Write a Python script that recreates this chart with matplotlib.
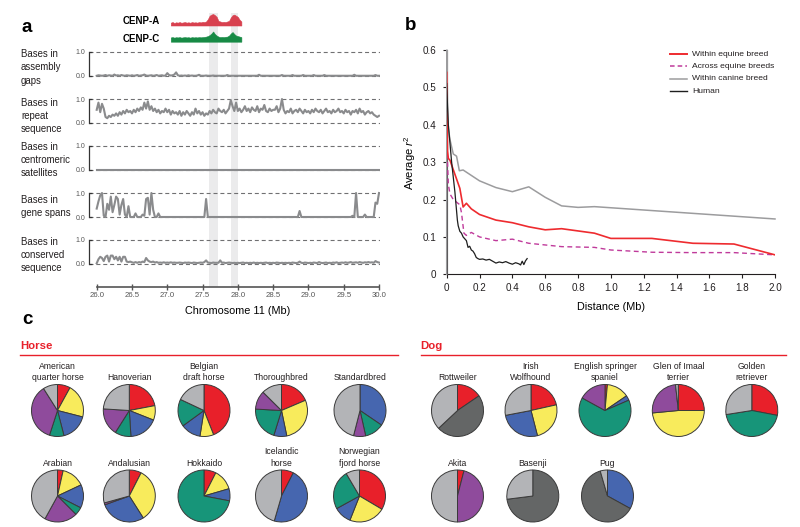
import numpy as np
import matplotlib
matplotlib.use('Agg')
import matplotlib.pyplot as plt
from matplotlib.lines import Line2D

plt.rcParams['font.family'] = ['Liberation Sans', 'DejaVu Sans']
plt.rcParams['mathtext.fontset'] = 'custom'
plt.rcParams['mathtext.rm'] = 'Liberation Sans'
plt.rcParams['mathtext.it'] = 'Liberation Sans:italic'

# ---------------- data: panel a ----------------
track_names = ["Bases in\nassembly\ngaps", "Bases in\nrepeat\nsequence",
               "Bases in\ncentromeric\nsatellites", "Bases in\ngene spans",
               "Bases in\nconserved\nsequence"]
chrom_ticks = [26.0, 26.5, 27.0, 27.5, 28.0, 28.5, 29.0, 29.5, 30.0]
cen_bands = [(27.59, 27.72), (27.90, 28.00)]
cenp_range = (27.05, 28.05)

gaps = [.01,.03,.02,.01,.02,.04,.01,.03,.02,.01,.06,.02,.03,.01,.04,.02,.01,.03,.02,.01,
        .03,.01,.02,.04,.01,.02,.03,.06,.02,.01,.02,.03,.01,.02,.04,.01,.02,.03,.01,.02,
        .12,.04,.02,.03,.06,.15,.03,.01,.02,.01,.02,.01,.03,.01,.02,.01,.01,.02,.05,.01,
        .01,.01,.02,.01,.01,.01,.02,.01,.01,.01,.01,.01,.01,.01,.04,.01,.01,.01,.01,.01,
        .01,.01,.01,.01,.01,.01,.01,.01,.01,.01,.01,.01,.05,.01,.01,.01,.01,.01,.01,.01,
        .01,.01,.01,.01,.01,.04,.01,.01,.01,.01,.01,.04,.01,.01,.01,.01,.01,.04,.01,.01,
        .01,.01,.01,.04,.01,.01,.01,.01,.01,.04,.01,.01,.01,.01,.01,.01,.01,.01,.01,.01,
        .01,.01,.01,.01,.01,.01,.05,.01,.01,.01,.01,.01,.01,.01,.01,.01,.01,.01,.04,.01,
        .01]
repeat = [.55,.85,.45,.8,.6,.25,.2,.3,.25,.35,.3,.4,.3,.45,.35,.5,.4,.55,.45,.5,
          .4,.55,.45,.6,.5,.65,.55,.85,.6,.9,.55,.7,.5,.6,.45,.55,.4,.5,.45,.6,
          .45,.55,.35,.5,.4,.45,.35,.5,.3,.45,.35,.5,.4,.3,.45,.35,.6,.4,.5,.35,
          .45,.3,.4,.35,.5,.4,.55,.45,.4,.6,.5,.45,.55,.4,.5,.6,.95,.7,.5,.85,
          .5,.6,.45,.55,.7,.5,.6,.45,.65,.55,.5,.7,.45,.6,.55,.75,.5,.45,.6,.5,
          .55,.55,.7,.45,.6,1.0,.55,.4,.5,.45,.6,.4,.5,.55,.45,.6,.5,.4,.55,.45,
          .5,.4,.55,.45,.6,.5,.45,.55,.4,.5,.6,.45,.5,.4,.55,.45,.5,.6,.45,.5,
          .4,.55,.45,.5,.35,.5,.45,.55,.4,.6,.45,.5,.35,.45,.5,.4,.45,.35,.3,.25,
          .3]
centromeric = [0, 0, 0, 0, 0, 0, 0, 0, 0, 0, 0, 0, 0, 0, 0, 0, 0, 0, 0, 0, 0]
genes = [.35,.65,.9,1.0,.05,0,.55,.3,.85,.2,.5,.85,.75,.1,.5,.75,.1,0,.45,0,
         0,0,.15,0,0,0,.1,.05,.75,.8,.1,1.0,.3,0,0,.15,0,0,0,0,
         0,0,0,0,0,0,0,0,0,0,0,0,0,0,0,0,0,0,0,0,
         0,0,.75,0,0,0,0,0,0,0,0,0,0,0,0,0,0,0,0,0,
         0,0,0,0,0,0,0,0,0,0,0,0,0,0,0,0,0,0,0,0,
         0,0,0,0,0,0,0,0,0,0,0,0,0,0,0,.25,0,0,0,0,
         0,0,0,0,0,0,0,0,0,0,0,0,0,0,0,0,0,0,0,0,
         0,0,0,0,0,.05,0,1.0,0,0,0,0,.1,0,0,0,0,0,.6,.55,
         1.0]
conserved = [.03,.2,.3,.25,.12,.3,.35,.1,.35,.35,.2,.3,.15,.3,.1,.3,.3,.1,.08,.1,
             .07,.05,.08,.05,.08,.06,.1,.08,.25,.15,.1,.08,.1,.06,.08,.05,.06,.05,.07,.05,
             .06,.05,.07,.05,.06,.05,.05,.06,.05,.04,.06,.05,.06,.05,.04,.06,.05,.04,.05,.06,
             .05,.08,.15,.06,.05,.04,.06,.05,.05,.05,.15,.05,.06,.04,.05,.06,.05,.04,.05,.04,
             .05,.04,.05,.06,.04,.05,.04,.05,.04,.06,.04,.05,.04,.05,.04,.05,.06,.04,.05,.04,
             .05,.04,.06,.05,.04,.05,.04,.05,.04,.05,.04,.06,.05,.04,.05,.1,.05,.04,.06,.05,
             .04,.05,.04,.06,.05,.04,.08,.05,.04,.05,.06,.04,.05,.04,.06,.05,.07,.04,.05,.06,
             .05,.07,.05,.06,.08,.05,.06,.07,.05,.08,.06,.05,.07,.06,.08,.06,.07,.05,.12,.08,
             .06]
cenp_a = [.25,.3,.22,.28,.25,.3,.24,.27,.3,.25,.28,.24,.3,.26,.28,.25,.3,.27,.32,.3,
          .35,.55,.85,.95,1.0,.9,.75,.4,.35,.3,.32,.3,.35,.4,.7,.9,.95,.85,.75,.5,.35]
cenp_c = [.42,.45,.4,.44,.42,.45,.4,.43,.45,.42,.44,.4,.45,.42,.44,.42,.45,.43,.45,.47,
          .5,.55,.65,.8,1.0,.75,.6,.5,.45,.47,.45,.48,.5,.6,.8,.95,.75,.6,.55,.5,.45]

# ---------------- data: panel b ----------------
equine_x = [0, 0.005, 0.01, 0.02, 0.04, 0.06, 0.08, 0.1, 0.12, 0.15, 0.2, 0.3, 0.4, 0.5,
            0.6, 0.7, 0.8, 0.9, 1.0, 1.25, 1.5, 1.75, 2.0]
equine_y = [0.54, 0.33, 0.31, 0.305, 0.28, 0.255, 0.23, 0.18, 0.19, 0.175, 0.16, 0.145,
            0.138, 0.127, 0.119, 0.122, 0.116, 0.11, 0.096, 0.096, 0.083, 0.081, 0.052]
across_x = [0, 0.005, 0.01, 0.02, 0.04, 0.08, 0.09, 0.105, 0.12, 0.15, 0.2, 0.3, 0.4, 0.5,
            0.7, 0.9, 1.0, 1.25, 1.5, 1.75, 2.0]
across_y = [0.39, 0.3, 0.24, 0.215, 0.2, 0.186, 0.165, 0.11, 0.104, 0.112, 0.1, 0.09, 0.094,
            0.083, 0.074, 0.072, 0.065, 0.059, 0.058, 0.058, 0.052]
canine_x = [0, 0.001, 0.005, 0.01, 0.02, 0.04, 0.06, 0.077, 0.1, 0.2, 0.3, 0.4, 0.5, 0.6,
            0.7, 0.8, 0.9, 1.0, 2.0]
canine_y = [0, 0.6, 0.45, 0.39, 0.36, 0.322, 0.316, 0.277, 0.279, 0.25, 0.232, 0.221,
            0.234, 0.206, 0.183, 0.179, 0.181, 0.178, 0.148]
human_x = [0, 0.005, 0.01, 0.02, 0.03, 0.04, 0.05, 0.06, 0.065, 0.07, 0.08, 0.09, 0.1, 0.11,
           0.12, 0.13, 0.14, 0.15, 0.16, 0.17, 0.18, 0.19, 0.2, 0.22, 0.24, 0.26, 0.28, 0.3,
           0.32, 0.34, 0.36, 0.38, 0.4, 0.42, 0.44, 0.45, 0.46, 0.47, 0.48, 0.49]
human_y = [0.51, 0.45, 0.40, 0.35, 0.30, 0.26, 0.22, 0.17, 0.145, 0.13, 0.115, 0.11, 0.1,
           0.095, 0.09, 0.072, 0.075, 0.065, 0.062, 0.055, 0.045, 0.042, 0.04, 0.041, 0.038,
           0.04, 0.035, 0.03, 0.033, 0.031, 0.034, 0.03, 0.027, 0.031, 0.028, 0.025, 0.035,
           0.026, 0.036, 0.042]
ld_labels = ["Within equine breed", "Across equine breeds", "Within canine breed", "Human"]

# ---------------- data: panel c ----------------
# component order: red, yellow, blue, green, purple, dark grey, light grey
horse_breeds = ["American\nquarter horse", "Hanoverian", "Belgian\ndraft horse", "Thoroughbred",
                "Standardbred", "Arabian", "Andalusian", "Hokkaido", "Icelandic\nhorse",
                "Norwegian\nfjord horse"]
horse_fracs = [
    [8, 21, 17, 9, 36, 0, 9],
    [22, 9, 18, 10, 17, 0, 24],
    [44, 8.5, 12.5, 17, 0, 0, 18],
    [18.5, 28, 8, 21, 11.5, 0, 12.5],
    [0, 0, 34.5, 12, 7.5, 0, 46],
    [3.5, 14.5, 14.5, 5, 20.5, 0, 42],
    [7.5, 33.5, 28.5, 0, 1.2, 0, 29.3],
    [7.5, 13, 7.5, 72, 0, 0, 0],
    [7.5, 0, 47, 0, 0, 0, 45.5],
    [33.5, 22.5, 11, 24.5, 0, 0, 8.5],
]
dog_breeds = ["Rottweiler", "Irish\nWolfhound", "English springer\nspaniel",
              "Glen of Imaal\nterrier", "Golden\nretriever", "Akita", "Basenji", "Pug"]
dog_fracs = [
    [15.5, 0, 0, 0, 0, 47.5, 37],
    [21.5, 24.5, 26, 0, 0, 0, 28],
    [1.5, 14, 3, 64.5, 17, 0, 0],
    [25, 48.5, 0, 0, 24.8, 0, 1.7],
    [28, 0, 0, 44.5, 0, 0, 27.5],
    [4, 0, 0, 0, 46, 0, 50],
    [0, 0, 0, 0, 0, 73, 27],
    [0, 0, 33, 0, 0, 62.5, 4.5],
]
comp_colors = ['#E8202A', '#F8EB5C', '#4666AF', '#179579', '#8F4B9C', '#646666', '#B3B4B7']

# ---------------- layout helpers ----------------
W, H = 800, 527
fig = plt.figure(figsize=(8, 5.27), dpi=100)


def px_axes(l, t, w, h):
    return fig.add_axes([l / W, 1 - (t + h) / H, w / W, h / H])


def ftext(x, y, s, **kw):
    return fig.text(x / W, 1 - y / H, s, **kw)


# ---------------- panel a ----------------
pxA0, pxA1 = 96.7, 379.0          # pixel positions of 26.0 and 30.0
ppm = (pxA1 - pxA0) / 4.0
axL, axR = 89.0, 380.0
xl0 = 26 - (pxA0 - axL) / ppm
xl1 = 26 + (axR - pxA0) / ppm

ftext(22, 27, "a", fontsize=13.5, fontweight='bold', va='center', ha='left')

# grey centromere bands
band_ax = px_axes(axL, 13, axR - axL, 274)
band_ax.set_xlim(xl0, xl1)
band_ax.axis('off')
for b0, b1 in cen_bands:
    band_ax.axvspan(b0, b1, color='#ebebec', lw=0)

# CENP tracks
for vals, col, top, bot, name, ylab in [
        (cenp_a, '#D8414F', 14, 25.5, "CENP-A", 21.5),
        (cenp_c, '#178A45', 31.5, 41.7, "CENP-C", 39.3)]:
    cax = px_axes(axL, top, axR - axL, bot - top)
    cax.set_xlim(xl0, xl1)
    cax.set_ylim(0, 1)
    cax.axis('off')
    cx = np.linspace(cenp_range[0], cenp_range[1], len(vals))
    cax.fill_between(cx, 0, vals, color=col, lw=0.4, edgecolor=col)
    ftext(159.5, ylab, name, fontsize=7, fontweight='bold', ha='right', va='center')

track_data = [gaps, repeat, centromeric, genes, conserved]
track_tops = [52, 99, 146, 193, 240]
label_centers = [67.5, 116, 160, 206.5, 255]
for vals, top, name, lc in zip(track_data, track_tops, track_names, label_centers):
    ax = px_axes(axL, top - 3, axR - axL, 30)
    ax.set_facecolor('none')
    ax.set_xlim(xl0, xl1)
    ax.set_ylim(-3 / 24, 1 + 3 / 24)
    for s in ['top', 'right', 'bottom']:
        ax.spines[s].set_visible(False)
    ax.spines['left'].set_bounds(0, 1)
    ax.spines['left'].set_color('#333333')
    ax.spines['left'].set_linewidth(0.9)
    ax.set_xticks([])
    ax.set_yticks([0, 1])
    ax.set_yticklabels(["0.0", "1.0"])
    ax.tick_params(axis='y', direction='in', length=2.5, width=0.9, color='#333333',
                   labelsize=5.0, pad=2.5, labelcolor='#555555')
    ax.axhline(1, color='#707072', lw=0.8, ls=(0, (3.6, 2.6)), zorder=1)
    ax.axhline(0, color='#707072', lw=0.8, ls=(0, (3.6, 2.6)), zorder=1)
    xs = np.linspace(26, 30, len(vals))
    ax.plot(xs, vals, color='#8a8b8d', lw=1.5, zorder=2)
    ftext(21, lc, name, fontsize=6.9, ha='left', va='center', linespacing=1.38,
          color='#231f20')

# chromosome axis
cax = px_axes(axL, 286, axR - axL, 1)
cax.set_facecolor('none')
cax.set_xlim(xl0, xl1)
for s in ['top', 'right', 'left']:
    cax.spines[s].set_visible(False)
cax.spines['bottom'].set_bounds(26, 30)
cax.spines['bottom'].set_color('#555555')
cax.spines['bottom'].set_linewidth(1.2)
cax.set_yticks([])
cax.set_xticks(chrom_ticks)
cax.set_xticklabels([f"{t:.1f}" for t in chrom_ticks])
cax.tick_params(axis='x', direction='inout', length=5, width=1, color='#555555',
                labelsize=5.6, pad=1, labelcolor='#555555')
ftext(238, 311, "Chromosome 11 (Mb)", fontsize=7.8, ha='center', va='center')

# ---------------- panel b ----------------
ftext(405, 25, "b", fontsize=13.5, fontweight='bold', va='center', ha='left')
axb = px_axes(446.7, 50, 328.3, 224.3)
axb.set_xlim(0, 2.0)
axb.set_ylim(0, 0.6)
for s in ['top', 'right']:
    axb.spines[s].set_visible(False)
for s in ['left', 'bottom']:
    axb.spines[s].set_linewidth(0.8)
    axb.spines[s].set_color('#231f20')
axb.plot(canine_x, canine_y, color='#9c9c9e', lw=1.1, zorder=3, clip_on=False)
axb.plot(across_x, across_y, color='#C03A9B', lw=1.0, ls=(0, (3.5, 2.5)), zorder=4)
axb.plot(equine_x, equine_y, color='#EE2B2F', lw=1.2, zorder=5)
axb.plot(human_x, human_y, color='#1e1e1e', lw=0.9, zorder=6)
xt = [0, 0.2, 0.4, 0.6, 0.8, 1.0, 1.2, 1.4, 1.6, 1.8, 2.0]
yt = [0, 0.1, 0.2, 0.3, 0.4, 0.5, 0.6]
axb.set_xticks(xt)
axb.set_xticklabels(["0" if v == 0 else f"{v:.1f}" for v in xt])
axb.set_yticks(yt)
axb.set_yticklabels(["0" if v == 0 else f"{v:.1f}" for v in yt])
axb.tick_params(direction='out', length=3, width=0.8, labelsize=7.1, color='#231f20',
                labelcolor='#231f20')
axb.tick_params(axis='y', pad=4.5)
axb.tick_params(axis='x', pad=3)
ftext(410, 163, r"Average $r^2$", fontsize=8, rotation=90, ha='center', va='center')
ftext(611, 307, "Distance (Mb)", fontsize=7.8, ha='center', va='center')

leg_styles = [dict(color='#EE2B2F', lw=1.4), dict(color='#C03A9B', lw=1.1, ls=(0, (3, 2))),
              dict(color='#9c9c9e', lw=1.1), dict(color='#1e1e1e', lw=1.0)]
for i, (lab, st) in enumerate(zip(ld_labels, leg_styles)):
    yy = 54 + i * 12.4
    fig.add_artist(Line2D([670 / W, 687 / W], [1 - yy / H, 1 - yy / H], **st))
    ftext(692, yy, lab, fontsize=6.1, ha='left', va='center', color='#231f20')

# ---------------- panel c ----------------
ftext(22, 320, "c", fontsize=13.5, fontweight='bold', va='center', ha='left')
ftext(20.5, 346, "Horse", fontsize=8.2, fontweight='bold', color='#E8202A', va='center')
ftext(420.5, 346, "Dog", fontsize=8.2, fontweight='bold', color='#E8202A', va='center')
fig.add_artist(Line2D([20 / W, 398 / W], [1 - 355 / H] * 2, color='#E8202A', lw=1.0))
fig.add_artist(Line2D([420.5 / W, 786 / W], [1 - 355 / H] * 2, color='#E8202A', lw=1.0))

R = 26.0
horse_pos = [(57.5, 410.5), (129.3, 410.5), (204, 410.5), (281.5, 410.5), (360, 410.5),
             (57.5, 496), (129.3, 496), (204, 496), (281.5, 496), (359.5, 496)]
dog_pos = [(457.5, 410.5), (531, 410.5), (605, 410.5), (678.3, 410.5), (751.8, 410.5),
           (457.5, 496), (532.8, 496), (607.5, 496)]


def draw_pie(cx, cy, fracs, label):
    half = 30
    pax = px_axes(cx - half, cy - half, 2 * half, 2 * half)
    vals = [f for f in fracs if f > 0]
    cols = [c for f, c in zip(fracs, comp_colors) if f > 0]
    pax.pie(vals, colors=cols, startangle=90, counterclock=False, radius=1.0,
            wedgeprops=dict(edgecolor='#3a3a3a', linewidth=0.7))
    lim = half / R
    pax.set_xlim(-lim, lim)
    pax.set_ylim(-lim, lim)
    pax.set_aspect('equal')
    pax.axis('off')
    ftext(cx, cy - R - 2.5, label, fontsize=6.2, ha='center', va='bottom',
          linespacing=1.33, color='#231f20')


for (cx, cy), fr, lab in zip(horse_pos, horse_fracs, horse_breeds):
    draw_pie(cx, cy, fr, lab)
for (cx, cy), fr, lab in zip(dog_pos, dog_fracs, dog_breeds):
    draw_pie(cx, cy, fr, lab)

fig.savefig("out.png", dpi=100)
